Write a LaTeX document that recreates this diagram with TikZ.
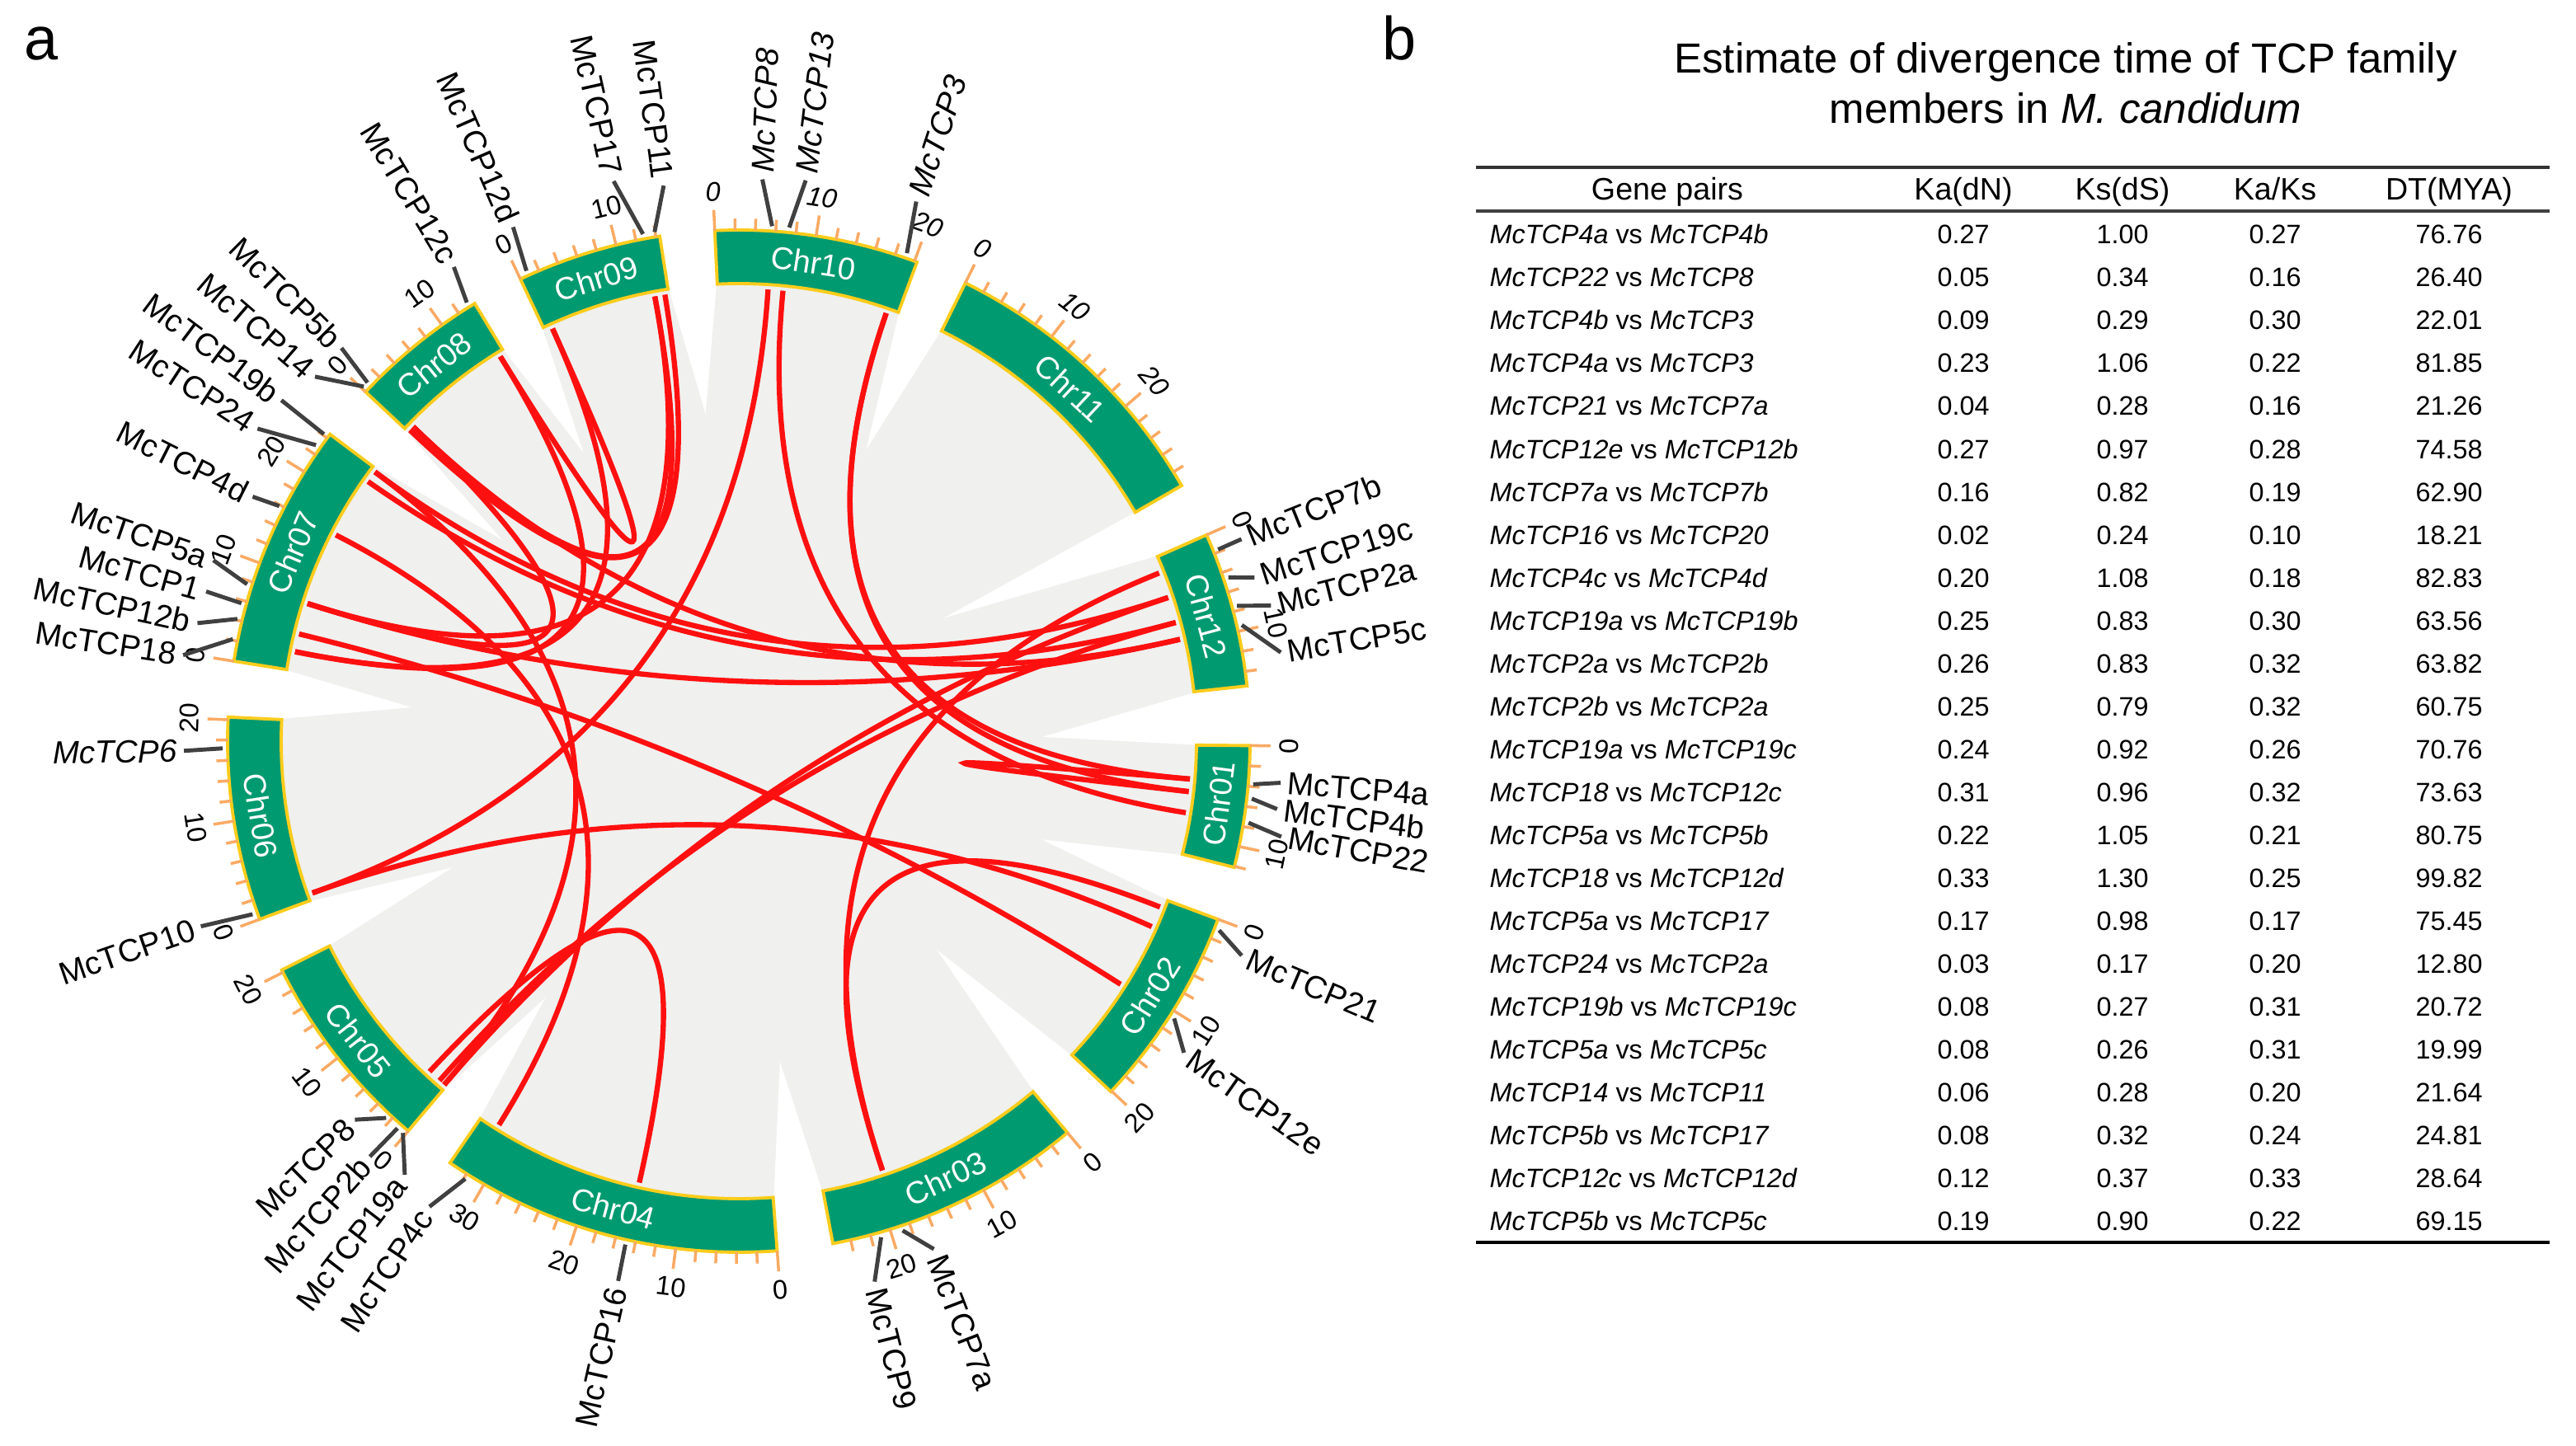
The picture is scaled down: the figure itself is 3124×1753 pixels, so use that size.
\documentclass[tikz,border=0pt]{standalone}
\usepackage{fontspec}
\setmainfont{Liberation Sans}

\definecolor{chrgreen}{RGB}{0,154,112}
\definecolor{chrgold}{RGB}{252,204,28}
\definecolor{tickorange}{RGB}{250,170,100}
\definecolor{linkred}{RGB}{255,16,16}
\definecolor{markgrey}{RGB}{64,64,64}
\definecolor{diskgrey}{RGB}{240,240,238}

\newcommand{\gpair}[2]{\textit{McTCP#1} vs \textit{McTCP#2}}

\tikzset{
  chrbox/.style={fill=chrgreen, draw=chrgold, line width=1.1pt},
  chrlab/.style={text=white, inner sep=0pt, font=\fontsize{10.8}{12}\selectfont},
  chrtick/.style={draw=tickorange, line width=1pt},
  ticklab/.style={inner sep=0pt, font=\fontsize{9.3}{10}\selectfont},
  genemark/.style={draw=markgrey, line width=1.4pt},
  genelab/.style={inner sep=0pt, font=\fontsize{11}{12}\selectfont},
  link/.style={draw=linkred, line width=1.8pt},
  panel/.style={inner sep=0pt, font=\fontsize{21}{24}\selectfont},
  ttl/.style={inner sep=0pt, font=\fontsize{14.5}{16}\selectfont},
  headtxt/.style={inner sep=0pt, anchor=base, font=\fontsize{10.7}{12}\selectfont},
  rowtxt/.style={inner sep=0pt, font=\fontsize{9.2}{10}\selectfont},
}

% gene / marker angle / label angle / label radius / label
\def\genelist{g4a/-4.8/-4.4/667/McTCP4a, g4b/-6.4/-7.2/666/McTCP4b, g22/-9.1/-10.0/676/McTCP22,
  g21/-21.5/-23.1/671/McTCP21, g12e/-32.5/-35.0/667/McTCP12e,
  g7a/-71.5/-69.0/668/McTCP7a, g9/-74.0/-75.9/684/McTCP9,
  g16/-102.7/-102.6/679/McTCP16, g4c/-122.0/-123.6/686/McTCP4c,
  g19a/-130.6/-127.6/672/McTCP19a, g2b/-131.4/-131.6/682/McTCP2b, g8b/-133.1/-135.4/662/McTCP8,
  g10/-160.4/-161.0/698/McTCP10, g6/-179.2/-179.0/681/\textit{McTCP6},
  g18/168.6/171.2/690/McTCP18, g12b/166.3/167.7/680/McTCP12b, g1/164.5/164.3/679/McTCP1,
  g5a/162.3/161.0/682/McTCP5a, g4d/152.9/153.3/668/McTCP4d, g24/145.0/147.0/704/McTCP24,
  g19b/143.5/143.3/700/McTCP19b,
  g14/136.6/139.3/686/McTCP14, g5b/136.0/135.3/686/McTCP5b, g12c/121.8/121.0/679/McTCP12c,
  g12d/114.3/113.7/689/McTCP12d, g17/100.7/102.6/704/McTCP17, g11/99.4/97.7/688/McTCP11,
  g8a/86.3/87.6/690/\textit{McTCP8}, g13/84.4/83.2/693/\textit{McTCP13}, g3/71.0/71.8/697/\textit{McTCP3},
  g7b/21.8/21.9/665/McTCP7b, g19c/18.5/17.6/664/McTCP19c, g2a/15.2/14.3/674/McTCP2a, g5c/13.0/9.3/674/McTCP5c}

\begin{document}
\begin{tikzpicture}[x=0.01cm,y=0.01cm]
\useasboundingbox (0,0) rectangle (3124,1753);

% Text Node
\node[panel, anchor=base] (pa) at (50,1680) {a};
% Text Node
\node[panel, anchor=base] (pb) at (1697,1680) {b};

%Circle plot
\begin{scope}[shift={(896,854)}]
%Shape: background disk
\fill[diskgrey] (0,0) circle[radius=555];
%Shape: white wedges in the gaps
\foreach \p/\q/\ta/\r in {6.2/-0.5/0.8/368, -14.3/-20.4/-18.0/386, -43.3/-50.0/-46.5/349,
    -79.4/-85.7/-82.7/392, -124.4/-130.3/-127.0/390, -153.4/-159.6/-156.2/380,
    177.3/171.0/174.1/399, 143.1/136.9/139.6/377, 121.1/115.3/118.3/398,
    98.9/92.7/95.8/399, 69.6/63.7/66.4/386, 30.0/23.8/31.0/290}
  \fill[white] (\p:562) -- (\ta:\r) -- (\q:562) -- cycle;

% gene positions on the inner ring
\foreach \g/\a/\b/\rl/\lab in \genelist {
  \coordinate (\g) at (\a:549);
  \coordinate (c\g) at (\a:183.3);
}
\coordinate (gx) at (-24.2:549);
\coordinate (cgx) at (-24.2:183.3);

%Links
\foreach \u/\v in {g4a/g4b, g13/g22, g4b/g3, g4a/g3, g21/g7a, g12e/g12b, g7a/g7b,
    g16/g8b, g4c/g4d, g19a/g19b, g2a/g2b, g19a/g19c, g18/g12c, g5a/g5b, g18/g12d,
    g5a/g17, g24/g2a, g19b/g19c, g5a/g5c, g14/g11, g5b/g17, g12c/g12d, g5b/g5c,
    g10/gx, g10/g8a}
  \draw[link] (\u) .. controls (c\u) and (c\v) .. (\v);

%Shape: chromosomes with ticks
\foreach \cn/\s/\e/\lt/\tf in {Chr01/-0.5/-14.3/12/\upshape, Chr02/-20.4/-43.3/20/\upshape,
    Chr03/-50.0/-79.4/24/\upshape, Chr04/-85.7/-124.4/32/\upshape,
    Chr05/-130.3/-153.4/20/\upshape, Chr06/-159.6/-182.7/20/\upshape,
    Chr07/171.0/143.1/24/\upshape, Chr08/136.9/121.1/12/\upshape,
    Chr09/115.3/98.9/14/\upshape, Chr10/92.7/69.6/20/\itshape,
    Chr11/63.7/30.0/28/\itshape, Chr12/23.8/6.2/14/\upshape} {
  \draw[chrbox] (\s:555) arc[start angle=\s, end angle=\e, radius=555]
    -- (\e:620) arc[start angle=\e, end angle=\s, radius=620] -- cycle;
  \pgfmathsetmacro{\cm}{(\s+\e)/2}
  \pgfmathsetmacro{\crot}{sin(\cm)>0 ? \cm-90 : \cm+90}
  \node[chrlab, rotate=\crot] (\cn) at (\cm:587) {\cn};
  \foreach \mb in {0,2,...,\lt} {
    \pgfmathsetmacro{\ta}{\s-1.14*\mb}
    \pgfmathtruncatemacro{\mj}{mod(\mb,10)==0 ? 1 : 0}
    \ifnum\mj=1
      \draw[chrtick] (\ta:620) -- (\ta:645);
      \pgfmathsetmacro{\trot}{sin(\ta)>0 ? \ta-90 : \ta+90}
      \node[ticklab, rotate=\trot] at (\ta:667) {\tf\mb};
    \else
      \draw[chrtick] (\ta:620) -- (\ta:634);
    \fi
  }
}

%Gene markers and labels
\foreach \g/\a/\b/\rl/\lab in \genelist {
  \pgfmathsetmacro{\re}{\rl-8}
  \draw[genemark] (\a:626) -- (\b:\re);
  \pgfmathtruncatemacro{\rs}{cos(\b)>0 ? 1 : 0}
  \ifnum\rs=1
    \node[genelab, rotate=\b, anchor=west] (l\g) at (\b:\rl) {\lab};
  \else
    \pgfmathsetmacro{\gr}{\b+180}
    \node[genelab, rotate=\gr, anchor=east] (l\g) at (\b:\rl) {\lab};
  \fi
}
\end{scope}

%Table
% Text Node
\node[ttl, anchor=base] (ttl1) at (2505,1664) {Estimate of divergence time of TCP family};
% Text Node
\node[ttl, anchor=base] (ttl2) at (2505,1603) {members in \textit{M. candidum}};
%Straight Lines
\draw[line width=1.2pt, black!80] (1790,1550) -- (3092,1550);
\draw[line width=0.9pt, black!75] (1790,1497) -- (3092,1497);
\draw[line width=1.4pt] (1790,246) -- (3092,246);
% header
\node[headtxt] (hgp) at (2022,1510) {Gene pairs};
\node[headtxt] (hka) at (2381,1510) {Ka(dN)};
\node[headtxt] (hks) at (2574,1510) {Ks(dS)};
\node[headtxt] (hkk) at (2759,1510) {Ka/Ks};
\node[headtxt] (hdt) at (2970,1510) {DT(MYA)};
% rows
\foreach \pa/\pb/\ka/\ks/\kk/\dt [count=\i from 0] in {4a/4b/0.27/1.00/0.27/76.76,
    22/8/0.05/0.34/0.16/26.40, 4b/3/0.09/0.29/0.30/22.01, 4a/3/0.23/1.06/0.22/81.85,
    21/7a/0.04/0.28/0.16/21.26, 12e/12b/0.27/0.97/0.28/74.58, 7a/7b/0.16/0.82/0.19/62.90,
    16/20/0.02/0.24/0.10/18.21, 4c/4d/0.20/1.08/0.18/82.83, 19a/19b/0.25/0.83/0.30/63.56,
    2a/2b/0.26/0.83/0.32/63.82, 2b/2a/0.25/0.79/0.32/60.75, 19a/19c/0.24/0.92/0.26/70.76,
    18/12c/0.31/0.96/0.32/73.63, 5a/5b/0.22/1.05/0.21/80.75, 18/12d/0.33/1.30/0.25/99.82,
    5a/17/0.17/0.98/0.17/75.45, 24/2a/0.03/0.17/0.20/12.80, 19b/19c/0.08/0.27/0.31/20.72,
    5a/5c/0.08/0.26/0.31/19.99, 14/11/0.06/0.28/0.20/21.64, 5b/17/0.08/0.32/0.24/24.81,
    12c/12d/0.12/0.37/0.33/28.64, 5b/5c/0.19/0.90/0.22/69.15} {
  \pgfmathsetmacro{\ry}{1457-52*\i}
  \node[rowtxt, anchor=base west] (p\i) at (1806,\ry) {\gpair{\pa}{\pb}};
  \node[rowtxt, anchor=base] (ka\i) at (2381,\ry) {\ka};
  \node[rowtxt, anchor=base] (ks\i) at (2574,\ry) {\ks};
  \node[rowtxt, anchor=base] (kk\i) at (2759,\ry) {\kk};
  \node[rowtxt, anchor=base] (dt\i) at (2970,\ry) {\dt};
}
\end{tikzpicture}
\end{document}
